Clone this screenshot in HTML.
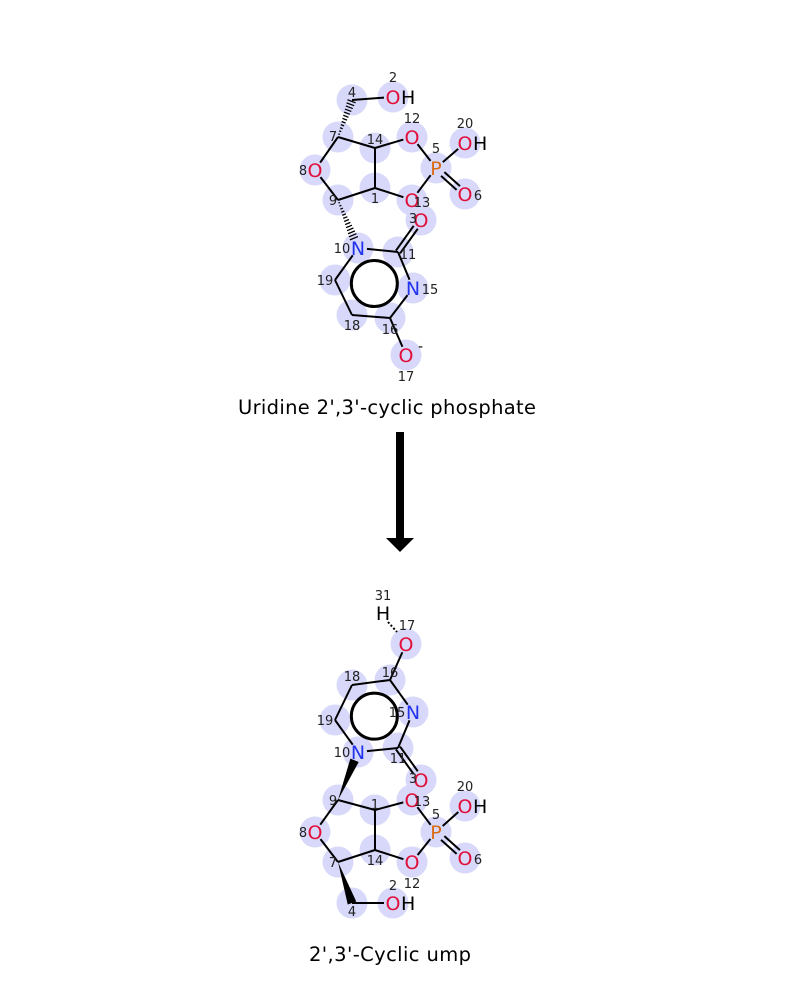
<!DOCTYPE html>
<html><head><meta charset="utf-8"><style>
html,body{margin:0;padding:0;background:#fff}
svg{display:block}
text{font-family:"DejaVu Sans","Liberation Sans",sans-serif}
</style></head><body>
<svg id="s" width="800" height="1000" viewBox="0 0 800 1000">
<g id="hl"></g>
<g id="bd"></g>
<g id="lb"></g>
<text x="387" y="414" font-size="19.5" text-anchor="middle" textLength="298">Uridine 2',3'-cyclic phosphate</text>
<rect x="396" y="432" width="8" height="106" fill="#000"/>
<polygon points="386,538 414,538 400,552" fill="#000"/>
<text x="390" y="961" font-size="19.5" text-anchor="middle" textLength="162">2',3'-Cyclic ump</text>
</svg>
<script>
const topAtoms=[[4,'C',352,100],[2,'O',393,97],[7,'C',338,137],[14,'C',375,148],[12,'O',412,137],[5,'P',436,168],[20,'O',465,143],[6,'O',465,194],[8,'O',315,170],[9,'C',338,200],[1,'C',375,188],[13,'O',412,200],[3,'O',421,220],[10,'N',358,248],[11,'C',398,252],[15,'N',413,288],[16,'C',390,318],[18,'C',352,315],[19,'C',335,280],[17,'O',406,355]];
const botAtoms=[[31,'H',383,613],[17,'O',406,644],[16,'C',390,680],[18,'C',352,685],[19,'C',335,720],[15,'N',413,712],[10,'N',358,752],[11,'C',398,748],[3,'O',421,780],[9,'C',338,800],[1,'C',375,810],[13,'O',412,800],[8,'O',315,832],[7,'C',338,862],[14,'C',375,850],[12,'O',412,862],[5,'P',436,832],[20,'O',465,806],[6,'O',465,858],[4,'C',352,903],[2,'O',393,903]];
const topOff={4:[0,-8],2:[0,-20],7:[-5,-1],14:[0,-9],12:[0,-19],5:[0,-20],20:[0,-20],6:[13,1],8:[-12,0],9:[-5,0],1:[0,10],13:[10,2],3:[-8,-2],10:[-16,0],11:[10,2],15:[17,1],16:[0,11],18:[0,10],19:[-10,0],17:[0,21]};
const botOff={31:[0,-18],17:[1,-19],16:[0,-8],18:[0,-9],19:[-10,0],15:[-16,0],10:[-16,0],11:[0,10],3:[-8,-2],9:[-5,0],1:[0,-6],13:[10,1],8:[-12,0],7:[-5,0],14:[0,10],12:[0,21],5:[0,-18],20:[0,-20],6:[13,1],4:[0,8],2:[0,-18]};
const bondsList=[[4,2,1],[7,14,1],[7,8,1],[8,9,1],[9,1,1],[1,14,1],[14,12,1],[1,13,1],[12,5,1],[13,5,1],[5,20,1],[5,6,2],[10,11,1],[11,3,2],[11,15,1],[15,16,1],[16,18,1],[18,19,1],[19,10,1],[16,17,1]];
const S='http://www.w3.org/2000/svg';
const hl=document.getElementById('hl'),bd=document.getElementById('bd'),lb=document.getElementById('lb');
const col={O:'#e0103a',N:'#2233ee',P:'#d86a10'};
function mk(t,a,p){const e=document.createElementNS(S,t);for(const k in a)e.setAttribute(k,a[k]);p.appendChild(e);return e;}
function wedge(p,q,hashed,shq){
 const dx=q[2]-p[2],dy=q[3]-p[3],L=Math.hypot(dx,dy);const ux=dx/L,uy=dy/L,nx=-uy,ny=ux;
 const ex=q[2]-ux*shq,ey=q[3]-uy*shq,len=L-shq;
 if(hashed){for(let d=3;d<=len;d+=3.2){const w=0.5+4*d/len;
  const l=mk('line',{x1:p[2]+ux*d+nx*w,y1:p[3]+uy*d+ny*w,x2:p[2]+ux*d-nx*w,y2:p[3]+uy*d-ny*w,stroke:'#000','stroke-width':1.3},bd);
  
  }}
 else{const g=mk('polygon',{points:`${p[2]},${p[3]} ${ex+nx*4.5},${ey+ny*4.5} ${ex-nx*4.5},${ey-ny*4.5}`,fill:'#000'},bd);
  
  }
}
function draw(atoms,off,hashed,extra){
 const m={};atoms.forEach(a=>m[a[0]]=a);
 atoms.forEach(a=>{if(a[0]===31)return;const c=mk('circle',{cx:a[2],cy:a[3],r:15.5,fill:'#d8d8fa'},hl);
 
 });
 bondsList.forEach(b=>{const p=m[b[0]],q=m[b[1]];if(!p||!q)return;
  const dx=q[2]-p[2],dy=q[3]-p[3],L=Math.hypot(dx,dy);
  const sh=(e)=>e==='C'?0:9;const s1=sh(p[1])/L,s2=sh(q[1])/L;
  const x1=p[2]+dx*s1,y1=p[3]+dy*s1,x2=q[2]-dx*s2,y2=q[3]-dy*s2;
  if(b[2]===2){const nx=-dy/L*2.5,ny=dx/L*2.5;
   [1,-1].forEach(k=>{const l=mk('line',{x1:x1+nx*k,y1:y1+ny*k,x2:x2+nx*k,y2:y2+ny*k,stroke:'#000','stroke-width':2},bd);
   
   });}
  else{const l=mk('line',{x1,y1,x2,y2,stroke:'#000','stroke-width':2},bd);
   
   }
 });
 wedge(m[7],m[4],hashed,0);
 wedge(m[9],m[10],hashed,9);
 const ring=[10,11,15,16,18,19].map(i=>m[i]);
 const cx=ring.reduce((s,a)=>s+a[2],0)/6,cy=ring.reduce((s,a)=>s+a[3],0)/6;
 const rc=mk('circle',{cx,cy,r:23,fill:'none',stroke:'#000','stroke-width':3},bd);
 
 
 if(extra){const h=m[31],o=m[17];const l=mk('line',{x1:h[2]+5,y1:h[3]+9,x2:o[2]-9,y2:o[3]-12,stroke:'#000','stroke-width':2,'stroke-dasharray':'2,2'},bd);
  
  }
 atoms.forEach(a=>{
  if(a[1]!=='C'){const t=mk('text',{x:a[2],y:a[3]+7,'font-size':19,'text-anchor':'middle',fill:a[1]==='H'?'#000':col[a[1]]},lb);
   t.textContent=a[1];
   
   
   if(a[0]===2||a[0]===20){const h=mk('text',{x:a[2]+8,y:a[3]+7,'font-size':19,fill:'#000'},lb);h.textContent='H';
    
    }
   if(a[0]===17&&!extra){const ch=mk('text',{x:a[2]+12,y:a[3]-4,'font-size':14,fill:'#000'},lb);ch.textContent='-';
    
    }}
  const o=off[a[0]]||[0,-12];
  const n=mk('text',{x:a[2]+o[0],y:a[3]+o[1]+5,'font-size':13,'text-anchor':'middle',fill:'#222'},lb);
  n.textContent=a[0];
  
  
 });
}
draw(topAtoms,topOff,true,false);
draw(botAtoms,botOff,false,true);
</script>
</body></html>
